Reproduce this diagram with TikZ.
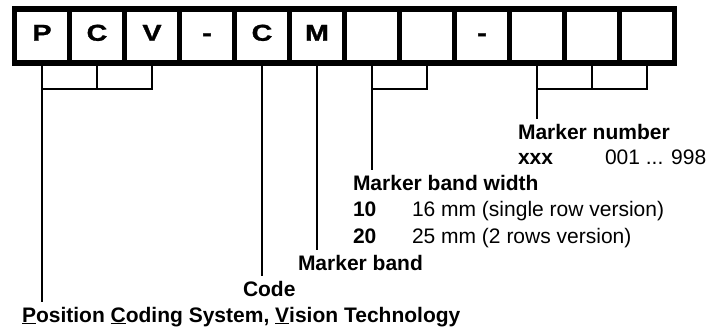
\documentclass[tikz,border=0pt]{standalone}
\usepackage{fontspec}
\setmainfont{Liberation Sans}
\newfontfamily\cellfont[BoldFeatures={FakeBold=1.2}]{Liberation Sans}
\newcommand{\widecell}[1]{\scalebox{1.25}[1]{#1}}
\begin{document}
\begin{tikzpicture}[x=1pt,y=-1pt,
  cell/.style={draw, line width=5.8pt, minimum width=55pt, minimum height=54pt,
    inner sep=0pt, outer sep=0pt, font=\fontsize{23}{26}\cellfont\bfseries,
    text height=16.5pt, text depth=7pt},
  conn/.style={line width=1.8pt},
  lbl/.style={anchor=base west, inner xsep=0pt, inner ysep=5pt, outer sep=0pt,
    font=\fontsize{21}{24}\selectfont\bfseries},
  txt/.style={anchor=base west, inner xsep=0pt, inner ysep=5pt, outer sep=0pt,
    font=\fontsize{21}{24}\selectfont}]
\useasboundingbox (0,0) rectangle (706,329);
% cells
\foreach \i/\t in {0/P,1/C,2/V,3/-,4/C,5/M,6/{},7/{},8/-,9/{},10/{},11/{}}
  \node[cell] (c\i) at (42+55*\i,36) {\widecell{\t}};
\coordinate (hbar) at (0,89);
% labels
\node[lbl] (mn) at (518,139) {Marker number};
\node[lbl] (xxx) at (518,164) {xxx};
\node[txt] (rng) at (605,164) {001 ... 998};
\node[lbl] (mbw) at (353,190) {Marker band width};
\node[lbl] (w10) at (353,216) {10};
\node[txt] (d10) at (412,216) {16 mm (single row version)};
\node[lbl] (w20) at (353,243) {20};
\node[txt] (d20) at (412,243) {25 mm (2 rows version)};
\node[lbl] (mb) at (298,270) {Marker band};
\node[lbl] (code) at (243,296) {Code};
\node[lbl] (pcs) at (22,322) {\underline{P}osition \underline{C}oding System, \underline{V}ision Technology};
% connectors
\draw[conn] (c0.south) -- (c0.south |- hbar) -- (c2.south |- hbar) -- (c2.south);
\draw[conn] (c1.south) -- (c1.south |- hbar);
\draw[conn] (c0.south |- hbar) -- (c0.south |- pcs.north);
\draw[conn] (c4.south) -- (c4.south |- code.north);
\draw[conn] (c5.south) -- (c5.south |- mb.north);
\draw[conn] (c6.south) -- (c6.south |- hbar) -- (c7.south |- hbar) -- (c7.south);
\draw[conn] (c6.south |- hbar) -- (c6.south |- mbw.north);
\draw[conn] (c9.south) -- (c9.south |- hbar) -- (c11.south |- hbar) -- (c11.south);
\draw[conn] (c10.south) -- (c10.south |- hbar);
\draw[conn] (c9.south |- hbar) -- (c9.south |- mn.north);
\end{tikzpicture}
\end{document}
